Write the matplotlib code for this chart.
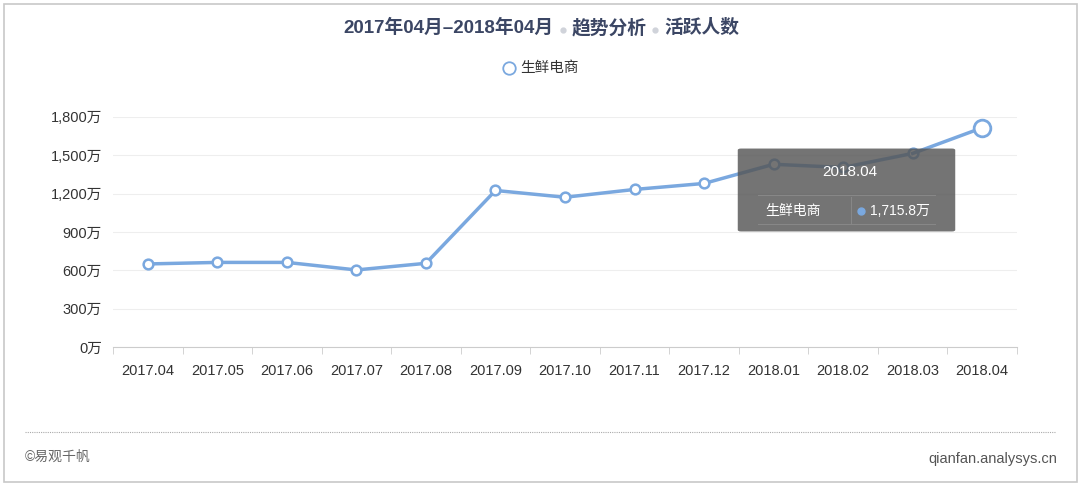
import matplotlib.pyplot as plt
from matplotlib.patches import FancyBboxPatch, Rectangle
from matplotlib.lines import Line2D

plt.rcParams['font.family'] = ['Liberation Sans', 'Noto Sans CJK SC', 'DejaVu Sans']

months = ["2017.04", "2017.05", "2017.06", "2017.07", "2017.08", "2017.09", "2017.10",
          "2017.11", "2017.12", "2018.01", "2018.02", "2018.03", "2018.04"]
active = [650, 662, 662, 603, 655, 1225, 1172, 1233, 1280, 1430, 1405, 1515, 1715.8]
yticks = [0, 300, 600, 900, 1200, 1500, 1800]
series = "生鲜电商"
title_parts = ["2017年04月–2018年04月", "趋势分析", "活跃人数"]

line_c = "#7aa8df"
title_c = "#3b4664"

fig = plt.figure(figsize=(10.8, 4.87), dpi=100)
fig.patch.set_facecolor("white")

# outer frame
fig.add_artist(Rectangle((4 / 1080, 5 / 487), 1073 / 1080, 478 / 487, transform=fig.transFigure,
                         fill=False, edgecolor="#c8c8c8", linewidth=1.2))

ax = fig.add_axes([113 / 1080, (487 - 347) / 487, (1017 - 113) / 1080, (347 - 117) / 487])
x = list(range(len(months)))
ax.plot(x[:-1], active[:-1], color=line_c, linewidth=2.5, marker="o", markersize=7,
        markerfacecolor="white", markeredgecolor=line_c, markeredgewidth=1.8, zorder=3)
ax.plot(x[-2:], active[-2:], color=line_c, linewidth=2.5, zorder=3)
ax.plot(x[-1], active[-1], marker="o", markersize=12, markerfacecolor="white",
        markeredgecolor=line_c, markeredgewidth=2, zorder=4)

ax.set_xlim(-0.5, len(months) - 0.5)
ax.set_ylim(0, 1800)
ax.set_yticks(yticks)
ax.set_yticklabels([f"{v:,}万" for v in yticks])
ax.set_xticks(x)
ax.set_xticklabels(months)
ax.set_xticks([i - 0.5 for i in range(len(months) + 1)], minor=True)
ax.tick_params(axis="x", which="major", length=0, pad=12, labelsize=10.5, colors="#333333")
ax.tick_params(axis="x", which="minor", length=5, color="#cccccc", direction="out")
ax.tick_params(axis="y", length=0, pad=8, labelsize=10.5, colors="#333333")
for s in ["top", "right", "left"]:
    ax.spines[s].set_visible(False)
ax.spines["bottom"].set_color("#cccccc")
ax.grid(axis="y", color="#eeeeee", linewidth=0.8)
ax.set_axisbelow(True)

# title, built from three parts with light dots between them
ty = 1 - 28 / 487
fig.text(553 / 1080, ty, title_parts[0], ha="right", va="center", fontsize=13.5,
         fontweight="bold", color=title_c)
fig.text(572 / 1080, ty, title_parts[1], ha="left", va="center", fontsize=13.5,
         fontweight="bold", color=title_c)
fig.text(664 / 1080, ty, title_parts[2], ha="left", va="center", fontsize=13.5,
         fontweight="bold", color=title_c)
for dx in [563, 655]:
    fig.add_artist(Line2D([dx / 1080], [1 - 30 / 487], marker="o", markersize=3.5, color="#d0d3da",
                          linestyle="none", transform=fig.transFigure))

# legend
fig.add_artist(Line2D([509 / 1080], [1 - 68 / 487], marker="o", markersize=9, markerfacecolor="white",
                      markeredgecolor=line_c, markeredgewidth=1.3, transform=fig.transFigure))
fig.text(520 / 1080, 1 - 68 / 487, series, ha="left", va="center", fontsize=10.5, color="#333333")

# tooltip
fig.add_artist(FancyBboxPatch((741 / 1080, 1 - 230 / 487), 211 / 1080, 80 / 487,
                              boxstyle="round,pad=0.003", transform=fig.transFigure,
                              facecolor="#555555", alpha=0.82, edgecolor="none", zorder=10))
fig.text(850 / 1080, 1 - 172 / 487, months[-1], ha="center", va="center", fontsize=11,
         color="white", zorder=11)
for yy in [195, 224]:
    fig.add_artist(Line2D([758 / 1080, 935 / 1080], [1 - yy / 487, 1 - yy / 487], color="#888888",
                          linewidth=0.7, transform=fig.transFigure, zorder=11))
fig.add_artist(Line2D([851 / 1080, 851 / 1080], [1 - 197 / 487, 1 - 224 / 487], color="#888888",
                      linewidth=0.7, transform=fig.transFigure, zorder=11))
fig.text(765 / 1080, 1 - 211 / 487, series, ha="left", va="center", fontsize=10, color="white", zorder=11)
fig.add_artist(Line2D([861 / 1080], [1 - 211 / 487], marker="o", markersize=5, color=line_c,
                      linestyle="none", transform=fig.transFigure, zorder=11))
fig.text(870 / 1080, 1 - 211 / 487, f"{active[-1]:,}万", ha="left", va="center", fontsize=10,
         color="white", zorder=11)

# footer
fig.add_artist(Line2D([25 / 1080, 1055 / 1080], [1 - 432 / 487, 1 - 432 / 487], color="#aaaaaa",
                      linewidth=0.8, linestyle=(0, (1, 1)), transform=fig.transFigure))
fig.text(25 / 1080, 1 - 457 / 487, "©易观千帆", ha="left", va="center", fontsize=10, color="#666666")
fig.text(1057 / 1080, 1 - 459 / 487, "qianfan.analysys.cn", ha="right", va="center", fontsize=10.5,
         color="#555555")

fig.savefig("out.png", dpi=100)
